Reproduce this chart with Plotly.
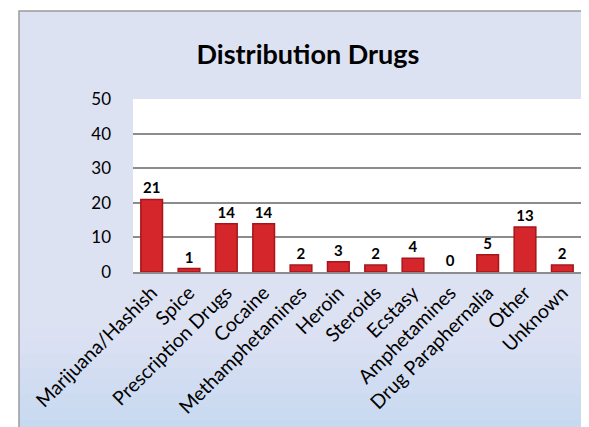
import plotly.graph_objects as go

categories = ['Marijuana/Hashish', 'Spice', 'Prescription Drugs', 'Cocaine',
              'Methamphetamines', 'Heroin', 'Steroids', 'Ecstasy',
              'Amphetamines', 'Drug Paraphernalia', 'Other', 'Unknown']
counts = [21, 1, 14, 14, 2, 3, 2, 4, 0, 5, 13, 2]
y_ticks = [0, 10, 20, 30, 40, 50]

W, H = 589, 427
L, R, T, B = 125, 16, 91, 163
pw, ph = W - L - R, H - T - B


def px_x(x):
    return (x - L) / pw


def px_y(y):
    return (H - B - y) / ph


fig = go.Figure()
fig.add_trace(go.Bar(
    x=categories,
    y=counts,
    text=counts,
    textposition='outside',
    cliponaxis=False,
    textfont=dict(size=15, color='black', family='Lato', weight='bold'),
    marker=dict(color='#d4262b',
                line=dict(color='#a8141a', width=[1.5 if v > 0 else 0 for v in counts])),
    width=0.58,
))

# soft gradient toward the bottom of the chart area (below plot area only)
shapes = []
band_cols = ['#dbe1f3', '#d9e0f3', '#d6dff2', '#d3ddf2', '#d0dcf1',
             '#cddbf1', '#cadaf0', '#c7d9f0']
top = 320
step = (425 - top) / len(band_cols)
for i, c in enumerate(band_cols):
    shapes.append(dict(type='rect', xref='paper', yref='paper',
                       x0=px_x(11), x1=px_x(586),
                       y0=px_y(top + (i + 1) * step + 0.5), y1=px_y(top + i * step),
                       fillcolor=c, line=dict(width=0), layer='below'))
# white outside the chart border
for x0, x1, y0, y1 in [(-5, 11, -5, 432), (586, 595, -5, 432),
                       (-5, 595, -5, 3), (-5, 595, 426, 432)]:
    shapes.append(dict(type='rect', xref='paper', yref='paper',
                       x0=px_x(x0), x1=px_x(x1), y0=px_y(y1), y1=px_y(y0),
                       fillcolor='white', line=dict(width=0), layer='below'))
shapes.append(dict(type='rect', xref='paper', yref='paper',
                   x0=px_x(11), x1=px_x(586), y0=px_y(426), y1=px_y(3),
                   fillcolor='rgba(0,0,0,0)', line=dict(color='#9a9a9a', width=1.5),
                   layer='above'))

fig.update_layout(
    width=W, height=H,
    margin=dict(l=L, r=R, t=T, b=B),
    paper_bgcolor='#dde2f3',
    plot_bgcolor='white',
    font=dict(family='Lato', size=17, color='black'),
    title=dict(text='<b>Distribution Drugs</b>', x=300 / W, xanchor='center',
               y=1 - 47 / H, yanchor='middle',
               font=dict(size=27, family='Lato', color='black')),
    showlegend=False,
    shapes=shapes,
    xaxis=dict(tickangle=-45, tickfont=dict(size=19.5), showgrid=False,
               showline=True, linecolor='#8c8c8c', linewidth=1.5,
               fixedrange=True),
    yaxis=dict(range=[0, 50.1], tickvals=y_ticks, showgrid=True,
               gridcolor='#8c8c8c', gridwidth=1.5, zeroline=False,
               ticklabelstandoff=21, tickfont=dict(size=17), showline=False),
)

fig.write_html("out.html")
